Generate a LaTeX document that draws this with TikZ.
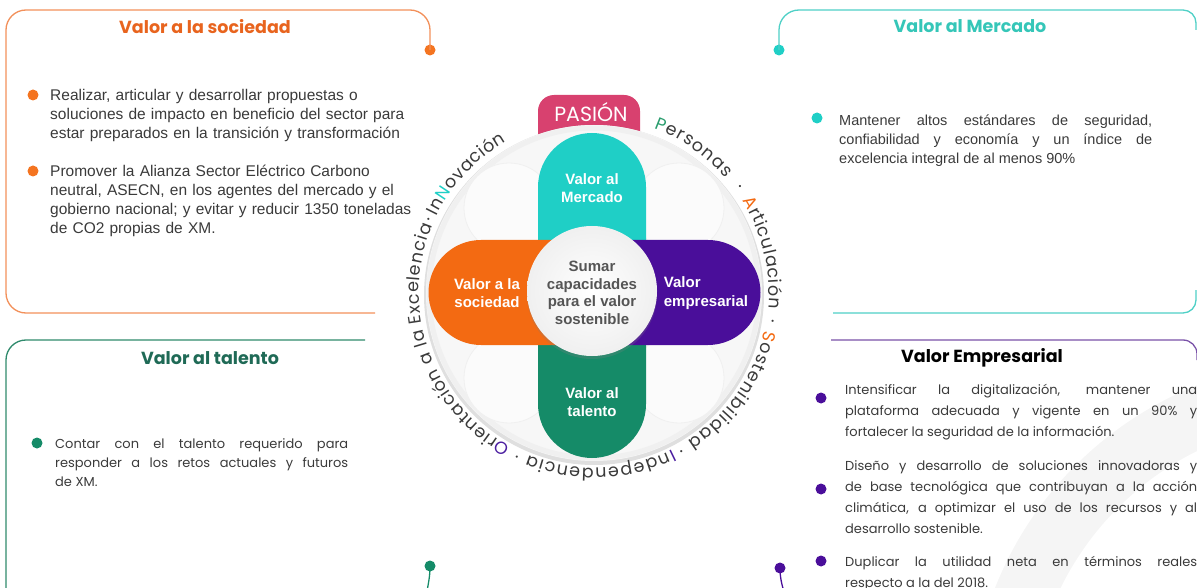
\documentclass[tikz,border=0pt]{standalone}
\usepackage{fontspec}
\setmainfont{Liberation Sans}
\newfontfamily\pop{Poppins}
\usetikzlibrary{decorations.text,shadows}
\definecolor{orL}{HTML}{F2905A}
\definecolor{orT}{HTML}{E8641E}
\definecolor{orA}{HTML}{F36A12}
\definecolor{orB}{HTML}{F47420}
\definecolor{teL}{HTML}{4FD0C6}
\definecolor{teT}{HTML}{35C6B8}
\definecolor{teA}{HTML}{1FCFC6}
\definecolor{grL}{HTML}{2F8A6C}
\definecolor{grT}{HTML}{1F6A56}
\definecolor{grA}{HTML}{158B68}
\definecolor{puL}{HTML}{7A52A8}
\definecolor{puA}{HTML}{4A0E9A}
\definecolor{pk}{HTML}{D8416F}
\definecolor{txt}{HTML}{3A3A3A}
\definecolor{ctx}{HTML}{555555}
\definecolor{cP}{HTML}{2A9D6E}
\definecolor{cI}{HTML}{4B1EA0}
\newcommand\cf{\pop\fontsize{17.5}{17.5}\selectfont\color{txt}}
\newcommand\ringseg[3]{\path[decorate,decoration={text along path,text align=fit to path,text={#3}}] (594,-293) ++(#1:175) arc[start angle=#1,end angle=#2,radius=175];}
\newcommand\ringdot[2]{\path[decorate,decoration={text along path,text align=center,text={|\cf|·}}] (594,-293) ++(#1:175) arc[start angle=#1,end angle=#2,radius=175];}
\begin{document}
\begin{tikzpicture}[x=1pt,y=1pt,
  boxline/.style={line width=1.3pt},
  dotn/.style={circle,inner sep=0pt,minimum size=11pt},
  bul/.style={circle,inner sep=0pt,minimum size=11pt},
  title/.style={font=\pop\bfseries\fontsize{17.5}{17.5}\selectfont},
  bodyA/.style={font=\fontsize{15.5}{19}\selectfont,text=txt,inner sep=0pt},
  bodyB/.style={font=\pop\fontsize{13}{19}\selectfont,text=txt,inner sep=0pt},
  armtxt/.style={font=\bfseries\fontsize{15}{18.5}\selectfont,text=white,align=center},
  petal/.style={draw=gray!12,fill=gray!3,line width=0.8pt}]
\useasboundingbox (0,0) rectangle (1197,-588);
\clip (0,0) rectangle (1197,-588);
% background ring bottom right
\fill[gray!8,even odd rule] (1330,-720) circle (360) (1330,-720) circle (300);
% dots
\node[dotn,fill=orB] (dS) at (430,-50) {};
\node[dotn,fill=teA] (dM) at (779,-50) {};
\node[dotn,fill=grA] (dT) at (430,-566) {};
\node[dotn,fill=puA] (dE) at (780,-568) {};
\coordinate (eT) at (427,-592);
\coordinate (eE) at (784,-592);
% box outlines
\draw[boxline,orL] (375,-313) -- (26,-313) arc[start angle=270,end angle=180,radius=20] -- (6,-30) arc[start angle=180,end angle=90,radius=20] -- (410,-10) arc[start angle=90,end angle=0,radius=20] -- (dS.center);
\draw[boxline,teL] (dM.center) -- (779,-30) arc[start angle=180,end angle=90,radius=20] -- (1183,-10) arc[start angle=90,end angle=0,radius=13] -- (1196,-30);
\draw[boxline,teL] (833,-313) -- (1183,-313) arc[start angle=270,end angle=360,radius=13] -- (1196,-290);
\draw[boxline,grL] (365,-340) -- (26,-340) arc[start angle=90,end angle=180,radius=20] -- (6,-600);
\draw[boxline,grA] (dT.center) .. controls (430,-578) and (428,-584) .. (eT);
\draw[boxline,puL] (831,-340) -- (1183,-340) arc[start angle=90,end angle=0,radius=14] -- (1197,-360);
\draw[boxline,puA] (dE.center) .. controls (780,-578) and (782,-585) .. (eE);
% titles
\node[title,text=orT] (tS) at (205,-27) {Valor a la sociedad};
\node[title,text=teT] (tM) at (970,-26) {Valor al Mercado};
\node[title,text=grT] (tT) at (210,-358) {Valor al talento};
\node[title,text=black] (tE) at (982,-358) {Valor Empresarial};
% bullets
\node[bul,fill=orB] (b1) at (33,-95) {};
\node[bul,fill=orB] (b2) at (33,-171) {};
\node[bul,fill=teA] (b3) at (817,-118) {};
\node[bul,fill=grA] (b4) at (37,-443) {};
\node[bul,fill=puA] (b5) at (821,-398) {};
\node[bul,fill=puA] (b6) at (821,-489) {};
\node[bul,fill=puA] (b7) at (821,-561) {};
% texts
\node[bodyA,anchor=base west,text width=380pt,align=left] (p1) at (50,-101) {Realizar, articular y desarrollar propuestas o\\soluciones de impacto en beneficio del sector para\\estar preparados en la transición y transformación};
\node[bodyA,anchor=base west,text width=380pt,align=left] (p2) at (50,-177) {Promover la Alianza Sector Eléctrico Carbono\\neutral, ASECN, en los agentes del mercado y el\\gobierno nacional; y evitar y reducir 1350 toneladas\\de CO2 propias de XM.};
\node[bodyA,font=\fontsize{14.5}{19}\selectfont,anchor=base west,text width=313pt,align=justify] (p3) at (839,-126) {Mantener altos estándares de seguridad, \linebreak confiabilidad y economía y un índice de \linebreak excelencia integral de al menos 90\%};
\node[bodyB,anchor=base west,text width=293pt,align=justify] (p4) at (55,-448) {Contar con el talento requerido para \linebreak responder a los retos actuales y futuros \linebreak de XM.};
\node[bodyB,font=\pop\fontsize{13}{21}\selectfont,anchor=base west,text width=352pt,align=justify] (p5) at (845,-394) {Intensificar la digitalización, mantener una \linebreak plataforma adecuada y vigente en un 90\% y \linebreak fortalecer la seguridad de la información.};
\node[bodyB,font=\pop\fontsize{13}{21}\selectfont,anchor=base west,text width=352pt,align=justify] (p6) at (845,-470) {Diseño y desarrollo de soluciones innovadoras y \linebreak de base tecnológica que contribuyan a la acción \linebreak climática, a optimizar el uso de los recursos y al \linebreak desarrollo sostenible.};
\node[bodyB,font=\pop\fontsize{13}{21}\selectfont,anchor=base west,text width=352pt,align=justify] (p7) at (845,-566) {Duplicar la utilidad neta en términos reales \linebreak respecto a la del 2018.};
% PASION badge
\fill[pk] (538,-140) -- (538,-111) arc[start angle=180,end angle=90,radius=16] -- (624,-95) arc[start angle=90,end angle=0,radius=16] -- (640,-140) -- cycle;
\node[font=\pop\fontsize{20.5}{20.5}\selectfont,text=white] (pas) at (591,-112) {PASIÓN};
% outer disc
\fill[gray!25] (594,-295) circle (170);
\fill[gray!6] (594,-293) circle (168);
\draw[gray!12,line width=5pt] (594,-293) circle (165);
\draw[petal] (509,-208) circle (45);
\draw[petal] (679,-208) circle (45);
\draw[petal] (509,-378) circle (45);
\draw[petal] (679,-378) circle (45);
% cross arms
\fill[teA] (538,-292) -- (538,-187) arc[start angle=180,end angle=0,radius=54] -- (646,-292) -- cycle;
\fill[grA] (538,-292) -- (538,-404) arc[start angle=180,end angle=360,radius=54] -- (646,-292) -- cycle;
\fill[orA] (592,-240) -- (481,-240) arc[start angle=90,end angle=270,radius=52.5] -- (592,-345) -- cycle;
\fill[puA] (592,-240) -- (708,-240) arc[start angle=90,end angle=-90,radius=52.5] -- (592,-345) -- cycle;
% center circle
\node[circle,minimum size=130pt,inner sep=0pt,inner color=white,outer color=gray!12,drop shadow={opacity=0.25,shadow xshift=0pt,shadow yshift=-3pt}] (ctr) at (592,-291) {};
\node[font=\bfseries\fontsize{15}{17.5}\selectfont,text=ctx,align=center] (ctrt) at (592,-293) {Sumar\\capacidades\\para el valor\\sostenible};
\node[armtxt] (aM) at (592,-188) {Valor al\\Mercado};
\node[armtxt] (aS) at (487,-293) {Valor a la\\sociedad};
\node[armtxt,align=left] (aE) at (706,-293) {Valor\\empresarial};
\node[armtxt] (aT) at (592,-402) {Valor al\\talento};
% ring text
\ringseg{70}{41}{|\cf\color{cP}|P|\cf|ersonas}
\ringdot{39}{33}
\ringseg{32}{-5}{|\cf\color{orA}|A|\cf|rticulación}
\ringdot{-6}{-12}
\ringseg{-12.5}{-57.5}{|\cf\color{orA}|S|\cf|ostenibilidad}
\ringdot{-58}{-64}
\ringseg{-63.5}{-112}{|\cf\color{cI}|I|\cf|ndependencia}
\ringdot{-112}{-118}
\ringseg{-118.5}{-202.5}{|\cf\color{cI}|O|\cf|rientación a la Excelencia}
\ringdot{-201}{-207}
\ringseg{-206}{-240}{|\cf|In|\cf\color{teA}|N|\cf|ovación}
\end{tikzpicture}
\end{document}
